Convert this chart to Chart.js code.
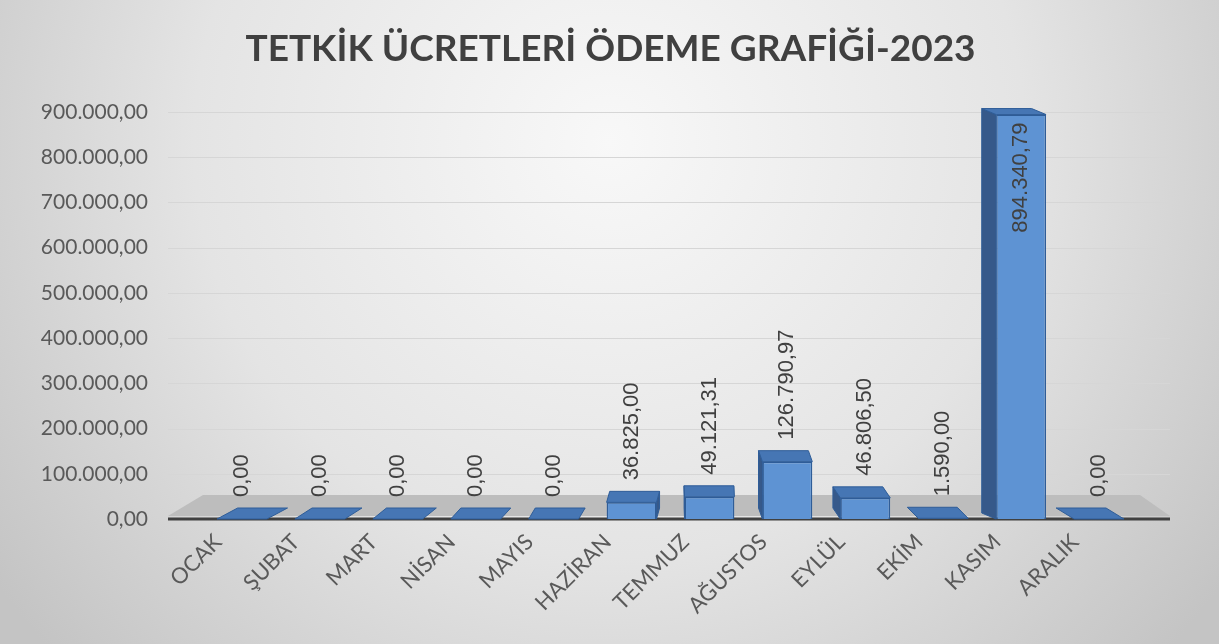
<!DOCTYPE html>
<html lang="tr">
<head>
<meta charset="utf-8">
<title>Tetkik Ücretleri Ödeme Grafiği 2023</title>
<script src="https://cdn.jsdelivr.net/npm/chart.js@4.4.0/dist/chart.umd.min.js"></script>
<style>
    html, body { margin: 0; padding: 0; background: #e6e6e6; }
    body { width: 1219px; height: 644px; overflow: hidden; }
</style>
</head>
<body>
<canvas id="payment-chart" width="1219" height="644"></canvas>
<script>
const chartTitle = 'TETKİK ÜCRETLERİ ÖDEME GRAFİĞİ-2023';
const months = ['OCAK', 'ŞUBAT', 'MART', 'NİSAN', 'MAYIS', 'HAZİRAN', 'TEMMUZ', 'AĞUSTOS', 'EYLÜL', 'EKİM', 'KASIM', 'ARALIK'];
const payments = [0, 0, 0, 0, 0, 36825.00, 49121.31, 126790.97, 46806.50, 1590.00, 894340.79, 0];
const yTicks = [0, 100000, 200000, 300000, 400000, 500000, 600000, 700000, 800000, 900000];

let paymentChart = null;

// 1234567.8 -> "1.234.567,80"
function formatTR(value) {
    const parts = Math.abs(value).toFixed(2).split('.');
    const whole = parts[0].replace(/\B(?=(\d{3})+(?!\d))/g, '.');
    return whole + ',' + parts[1];
}

const backgroundPlugin = {
    id: 'background',
    beforeDraw(chart) {
        const ctx = chart.ctx;
        const w = chart.width;
        const h = chart.height;
        const grad = ctx.createRadialGradient(w * 0.5, h * 0.22, 0, w * 0.5, h * 0.22, w * 0.62);
        grad.addColorStop(0, '#f8f8f8');
        grad.addColorStop(0.55, '#e4e4e4');
        grad.addColorStop(1, '#c4c4c4');
        ctx.save();
        ctx.fillStyle = grad;
        ctx.fillRect(0, 0, w, h);

        // title drawn here so it is centred on the whole picture
        ctx.font = 'bold 37px Lato, sans-serif';
        ctx.fillStyle = '#404040';
        ctx.textAlign = 'center';
        ctx.textBaseline = 'middle';
        ctx.fillText(chartTitle, w / 2 + 1, 49);
        ctx.restore();
    }
};

// grid lines and the grey floor, placed from the scales
const floorPlugin = {
    id: 'floor',
    beforeDatasetsDraw(chart) {
        const ctx = chart.ctx;
        const area = chart.chartArea;
        const yScale = chart.scales.y;
        ctx.save();

        ctx.strokeStyle = '#d6d6d6';
        ctx.lineWidth = 1;
        yTicks.forEach(v => {
            if (v === 0) return;
            const y = Math.round(yScale.getPixelForValue(v)) + 0.5;
            ctx.beginPath();
            ctx.moveTo(area.left - 35, y);
            ctx.lineTo(area.right + 32, y);
            ctx.stroke();
        });

        const base = yScale.getPixelForValue(0);
        ctx.fillStyle = '#bdbdbd';
        ctx.beginPath();
        ctx.moveTo(area.left, base - 24);
        ctx.lineTo(area.right + 2, base - 24);
        ctx.lineTo(area.right + 32, base - 3);
        ctx.lineTo(area.left - 35, base - 3);
        ctx.closePath();
        ctx.fill();

        ctx.strokeStyle = '#404040';
        ctx.lineWidth = 3;
        ctx.beginPath();
        ctx.moveTo(area.left - 35, base);
        ctx.lineTo(area.right + 32, base);
        ctx.stroke();
        ctx.restore();
    }
};

// fake depth: a top face and a side face on every bar
const depthPlugin = {
    id: 'depth',
    afterDatasetsDraw(chart) {
        const ctx = chart.ctx;
        const meta = chart.getDatasetMeta(0);
        const base = chart.scales.y.getPixelForValue(0);
        const vanishX = 700;
        ctx.save();
        ctx.lineWidth = 1;
        ctx.strokeStyle = '#2f5d98';
        meta.data.forEach(bar => {
            const half = bar.width / 2;
            const s = (vanishX - bar.x) * 0.045;
            const top = Math.min(bar.y, base);
            const depth = top < chart.chartArea.top + 20 ? 6 : 11;

            if (base - top > 1) {
                const edge = s > 0 ? bar.x + half : bar.x - half;
                ctx.fillStyle = '#36598a';
                ctx.beginPath();
                ctx.moveTo(edge, top);
                ctx.lineTo(edge + s, top - depth);
                ctx.lineTo(edge + s, base - depth);
                ctx.lineTo(edge, base);
                ctx.closePath();
                ctx.fill();
                ctx.stroke();
            }

            ctx.fillStyle = '#4676b4';
            ctx.beginPath();
            ctx.moveTo(bar.x - half, top);
            ctx.lineTo(bar.x - half + s, top - depth);
            ctx.lineTo(bar.x + half + s, top - depth);
            ctx.lineTo(bar.x + half, top);
            ctx.closePath();
            ctx.fill();
            ctx.stroke();
        });
        ctx.restore();
    }
};

const valueLabelPlugin = {
    id: 'valueLabels',
    afterDatasetsDraw(chart) {
        const ctx = chart.ctx;
        const meta = chart.getDatasetMeta(0);
        const area = chart.chartArea;
        ctx.save();
        ctx.font = '22px "Liberation Sans", Arial, sans-serif';
        ctx.fillStyle = '#404040';
        ctx.textBaseline = 'middle';
        meta.data.forEach((bar, i) => {
            const text = formatTR(payments[i]);
            const width = ctx.measureText(text).width;
            ctx.save();
            if (bar.y - 22 - width < area.top) {
                ctx.translate(bar.x, bar.y + 8);
                ctx.rotate(-Math.PI / 2);
                ctx.textAlign = 'right';
            } else {
                ctx.translate(bar.x, bar.y - 22);
                ctx.rotate(-Math.PI / 2);
                ctx.textAlign = 'left';
            }
            ctx.fillText(text, 0, 0);
            ctx.restore();
        });
        ctx.restore();
    }
};

function initializeChart() {
    const ctx = document.getElementById('payment-chart').getContext('2d');
    paymentChart = new Chart(ctx, {
        type: 'bar',
        data: {
            labels: months,
            datasets: [{
                label: 'Ödeme',
                data: payments,
                backgroundColor: '#5e93d3',
                borderColor: '#2f5d98',
                borderWidth: 1.5,
                categoryPercentage: 1,
                barPercentage: 0.64
            }]
        },
        options: {
            responsive: false,
            animation: false,
            layout: {
                padding: { left: 38, right: 81, top: 112, bottom: 0 }
            },
            plugins: {
                legend: { display: false },
                tooltip: { enabled: false },
                title: { display: false }
            },
            scales: {
                x: {
                    grid: { display: false, drawTicks: false },
                    border: { display: false },
                    ticks: {
                        color: '#595959',
                        font: { family: 'Lato', size: 22 },
                        minRotation: 45,
                        maxRotation: 45,
                        padding: 10,
                        labelOffset: -24,
                        autoSkip: false
                    },
                    afterFit(scale) {
                        scale.height = 125;
                    }
                },
                y: {
                    min: 0,
                    max: 900000,
                    grid: { display: false, drawTicks: false },
                    border: { display: false },
                    afterBuildTicks(scale) {
                        scale.ticks = yTicks.map(v => ({ value: v }));
                    },
                    ticks: {
                        color: '#595959',
                        font: { family: 'Lato', size: 21 },
                        padding: 55,
                        callback: value => formatTR(value)
                    },
                    afterFit(scale) {
                        scale.width = 165;
                    }
                }
            }
        },
        plugins: [backgroundPlugin, floorPlugin, depthPlugin, valueLabelPlugin]
    });
}

document.addEventListener('DOMContentLoaded', function() {
    Promise.all([
        document.fonts.load('bold 37px Lato'),
        document.fonts.load('21px Lato'),
        document.fonts.load('22px "Liberation Sans"')
    ]).catch(() => null).then(initializeChart);
});
</script>
</body>
</html>
